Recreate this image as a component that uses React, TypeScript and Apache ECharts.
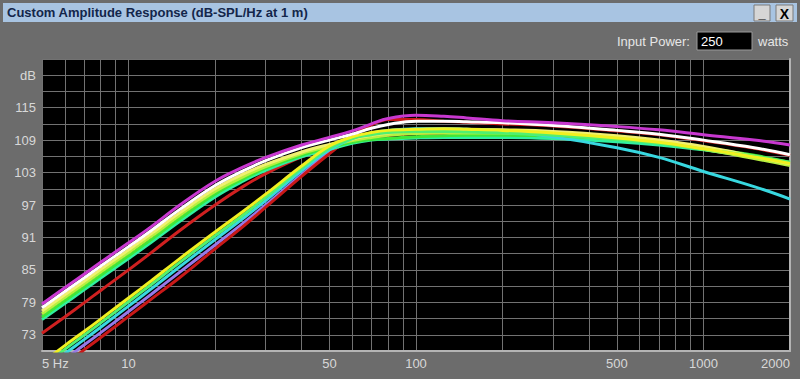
import React, { useEffect, useRef } from 'react';
import * as echarts from 'echarts';

// Frequencies (Hz) at which every curve is sampled
const freqs = [5, 6, 7, 8, 10, 12, 15, 20, 25, 30, 40, 50, 60, 70, 80, 100, 125, 150, 200, 300, 500, 700, 1000, 1500, 2000];

// Group A (shallower low-frequency roll-off)
const magenta = [78.7, 81.7, 84.2, 86.4, 90.0, 93.0, 96.9, 101.4, 104.0, 105.8, 108.1, 109.5, 110.7, 112.0, 113.0, 113.6, 113.4, 113.1, 112.6, 112.2, 111.5, 110.9, 110.0, 109.0, 108.1];
const white = [78.0, 81.0, 83.5, 85.7, 89.3, 92.3, 96.1, 100.6, 103.3, 105.2, 107.6, 109.0, 110.1, 111.2, 111.9, 112.5, 112.5, 112.4, 112.2, 111.7, 110.8, 110.1, 109.0, 107.6, 106.3];
const yellowA = [77.4, 80.4, 82.9, 85.1, 88.7, 91.7, 95.5, 100.0, 102.7, 104.5, 106.8, 108.2, 109.2, 109.9, 110.3, 110.8, 111.0, 111.0, 110.9, 110.6, 109.8, 109.0, 107.8, 106.0, 104.6];
const chartreuseA = [76.9, 79.9, 82.4, 84.6, 88.2, 91.2, 95.0, 99.5, 102.2, 104.1, 106.5, 107.9, 108.9, 109.5, 109.9, 110.2, 110.3, 110.3, 110.3, 110.0, 109.3, 108.5, 107.3, 105.6, 104.3];
const greenA = [76.3, 79.3, 81.8, 84.0, 87.6, 90.6, 94.4, 99.0, 101.8, 103.8, 106.2, 107.6, 108.6, 109.1, 109.3, 109.6, 109.8, 109.9, 109.9, 109.8, 109.2, 108.6, 107.6, 106.2, 104.9];
const springA = [75.8, 78.8, 81.3, 83.5, 87.1, 90.1, 93.9, 98.5, 101.4, 103.4, 105.9, 107.3, 108.4, 109.0, 109.2, 109.4, 109.5, 109.5, 109.5, 109.3, 108.7, 108.1, 107.2, 105.8, 104.6];
const redA = [73.3, 76.3, 78.9, 81.2, 85.0, 88.2, 92.2, 97.0, 100.4, 102.8, 105.9, 107.6, 108.8, 109.5, 109.9, 110.2, 110.3, 110.3, 110.2, 109.8, 109.1, 108.4, 107.3, 105.8, 104.6];

// Group B (steeper, higher cut-off)
const yellowB = [67.8, 71.0, 73.6, 75.9, 79.8, 83.0, 87.0, 92.0, 95.8, 99.0, 104.2, 107.9, 109.6, 110.4, 110.8, 111.0, 111.1, 111.0, 110.8, 110.3, 109.4, 108.6, 107.4, 105.9, 104.7];
const greenB = [67.1, 70.3, 72.9, 75.2, 79.1, 82.3, 86.3, 91.3, 95.1, 98.4, 103.8, 107.5, 109.3, 110.0, 110.4, 110.6, 110.6, 110.5, 110.3, 109.9, 109.1, 108.4, 107.3, 106.0, 104.9];
const cyanB = [66.3, 69.5, 72.1, 74.4, 78.3, 81.5, 85.5, 90.6, 94.5, 97.8, 103.3, 107.2, 109.3, 110.3, 110.8, 111.1, 111.1, 111.0, 110.7, 109.6, 107.6, 105.8, 103.2, 100.4, 98.1];
const purpleB = [65.3, 68.5, 71.1, 73.4, 77.3, 80.5, 84.5, 89.6, 93.6, 97.0, 102.6, 106.8, 109.0, 110.2, 110.7, 111.0, 111.0, 110.9, 110.6, 110.1, 109.3, 108.6, 107.4, 105.9, 104.7];
const redB = [64.3, 67.5, 70.2, 72.5, 76.4, 79.6, 83.5, 88.9, 93.0, 96.6, 102.3, 106.5, 109.8, 111.8, 112.8, 112.8, 112.5, 112.3, 112.0, 111.6, 110.7, 110.0, 108.9, 107.5, 106.2];

// Axis definitions
const gridFreqs = [5, 6, 7, 8, 9, 10, 20, 30, 40, 50, 60, 70, 80, 90, 100, 200, 300, 400, 500, 600, 700, 800, 900, 1000, 2000];
const xLabelFreqs = [5, 10, 50, 100, 500, 1000, 2000];
const xLabelTexts = ['5 Hz', '10', '50', '100', '500', '1000', '2000'];
const yLabelValues = [73, 79, 85, 91, 97, 103, 109, 115];
const yUnitValue = 121;
const yUnitText = 'dB';
const yMin = 70;
const yMax = 124;
const yStep = 3;

const curves = [
  { name: 'Red A', data: redA, color: '#d02020' },
  { name: 'Purple B', data: purpleB, color: '#9878e8' },
  { name: 'Red B', data: redB, color: '#c81818' },
  { name: 'Spring A', data: springA, color: '#30f0a0' },
  { name: 'Green A', data: greenA, color: '#40e838' },
  { name: 'Chartreuse A', data: chartreuseA, color: '#b8f040' },
  { name: 'Yellow A', data: yellowA, color: '#f0f070' },
  { name: 'Cyan B', data: cyanB, color: '#38d8e0' },
  { name: 'Green B', data: greenB, color: '#50f070' },
  { name: 'Yellow B', data: yellowB, color: '#f0f020' },
  { name: 'White', data: white, color: '#ffffff' },
  { name: 'Magenta', data: magenta, color: '#c838d0' },
];

const FONT = '"Liberation Sans", Arial, sans-serif';

export default function App() {
  const ref = useRef<HTMLDivElement>(null);
  useEffect(() => {
    document.body.style.margin = '0';
    const chart = echarts.init(ref.current!, null, { renderer: 'svg' });
    const lx = (f: number) => Math.log10(f);
    const textStyle = (text: string, fill: string, font: string, align: string) => ({
      text,
      fill,
      font,
      align,
      verticalAlign: 'middle',
      textAlign: align,
      textVerticalAlign: 'middle',
    });
    const option: any = {
      animation: false,
      backgroundColor: '#6c6c6c',
      title: {
        text: 'Custom Amplitude Response (dB-SPL/Hz at 1 m)',
        left: 7,
        top: 6,
        padding: 0,
        textStyle: { fontSize: 13, fontWeight: 'bold', color: '#13264a', fontFamily: FONT },
      },
      grid: {
        left: 42,
        right: 10,
        top: 59,
        bottom: 28,
        show: true,
        backgroundColor: '#000000',
        borderWidth: 0,
      },
      xAxis: {
        type: 'value',
        min: lx(5),
        max: lx(2000),
        axisLine: { show: true, onZero: false, lineStyle: { color: '#b4b4b4', width: 2 } },
        axisTick: { show: false, customValues: gridFreqs.map(lx) },
        splitLine: { show: true, lineStyle: { color: '#727272', width: 1 } },
        axisLabel: {
          customValues: xLabelFreqs.map(lx),
          showMinLabel: true,
          showMaxLabel: true,
          alignMinLabel: 'left',
          alignMaxLabel: 'right',
          color: '#d8d8d8',
          fontSize: 13,
          fontFamily: FONT,
          margin: 6,
          formatter: (v: number) => {
            const i = xLabelFreqs.findIndex((f) => Math.abs(lx(f) - v) < 1e-6);
            return i >= 0 ? xLabelTexts[i] : '';
          },
        },
      },
      yAxis: [
        {
          type: 'value',
          min: yMin,
          max: yMax,
          interval: yStep,
          axisLine: { show: false },
          axisTick: { show: false },
          splitLine: { show: true, lineStyle: { color: '#727272', width: 1 } },
          axisLabel: {
            color: '#d8d8d8',
            fontSize: 13,
            fontFamily: FONT,
            margin: 6,
            formatter: (v: number) => {
              if (Math.abs(v - yUnitValue) < 1e-6) return yUnitText;
              return yLabelValues.some((y) => Math.abs(y - v) < 1e-6) ? String(v) : '';
            },
          },
        },
        {
          type: 'value',
          position: 'right',
          min: yMin,
          max: yMax,
          interval: yStep,
          axisLine: { show: true, lineStyle: { color: '#b4b4b4', width: 2 } },
          axisTick: { show: false },
          axisLabel: { show: false },
          splitLine: { show: false },
        },
      ],
      series: curves.map((c) => ({
        name: c.name,
        type: 'line',
        data: freqs.map((f, i) => [lx(f), c.data[i]]),
        showSymbol: false,
        smooth: 0.4,
        clip: true,
        silent: true,
        lineStyle: { color: c.color, width: 3 },
        itemStyle: { color: c.color },
      })),
      graphic: [
        { type: 'rect', z: -1, shape: { x: 3, y: 3, width: 794, height: 19 }, style: { fill: '#a8c4e2' } },
        { type: 'rect', shape: { x: 754, y: 5, width: 16, height: 16 }, style: { fill: '#d6d6d6', stroke: '#7a7a7a', lineWidth: 1 } },
        { type: 'text', x: 762, y: 13, style: textStyle('_', '#000', 'bold 13px ' + FONT, 'center') },
        { type: 'rect', shape: { x: 776, y: 5, width: 17, height: 16 }, style: { fill: '#d6d6d6', stroke: '#7a7a7a', lineWidth: 1 } },
        { type: 'text', x: 784.5, y: 13.5, style: textStyle('X', '#000', 'bold 14px ' + FONT, 'center') },
        { type: 'text', x: 617, y: 41, style: textStyle('Input Power:', '#e6e6e6', '13px ' + FONT, 'left') },
        { type: 'rect', shape: { x: 697, y: 32, width: 55, height: 18 }, style: { fill: '#000', stroke: '#9a9a9a', lineWidth: 1 } },
        { type: 'text', x: 701, y: 41, style: textStyle('250', '#ffffff', '13px ' + FONT, 'left') },
        { type: 'text', x: 758, y: 41, style: textStyle('watts', '#e6e6e6', '13px ' + FONT, 'left') },
      ],
    };
    chart.setOption(option);
    return () => chart.dispose();
  }, []);
  return <div ref={ref} style={{ width: 800, height: 379 }} />;
}
